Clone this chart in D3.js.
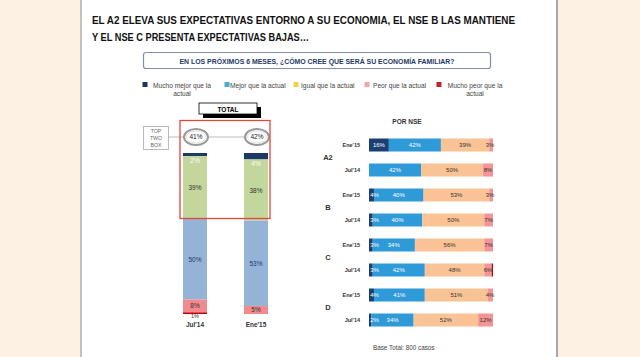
<!DOCTYPE html>
<html><head><meta charset="utf-8">
<script src="https://cdn.jsdelivr.net/npm/d3@7"></script>
<style>html,body{margin:0;padding:0;background:#FDF1E4;}svg{display:block;}</style>
</head><body>
<script>
// ---- data ----
const legendLabels = [["Mucho mejor que la","actual"],["Mejor que la actual"],["Igual que la actual"],["Peor que la actual"],["Mucho peor que la","actual"]];
const totalCategories = ["Jul'14","Ene'15"];
const totalMuchoMejor = [2,4];
const totalMejor = [39,38];
const totalIgual = [50,53];
const totalPeor = [8,5];
const totalMuchoPeor = [1,0];
const topTwoBox = [41,42];

const nseGroups = ["A2","B","C","D"];
const nseRowLabels = ["Ene'15","Jul'14"];
const nseMuchoMejor = [16,0, 4,3, 3,3, 4,2];
const nseMejor =      [42,42, 40,40, 34,42, 41,34];
const nseIgual =      [39,50, 53,50, 56,48, 51,52];
const nsePeor =       [3,8, 3,7, 7,6, 4,12];
const nseMuchoPeor =  [0,0, 0,0, 0,1, 0,0];

const W=640,H=357;
const svg=d3.select("body").append("svg").attr("width",W).attr("height",H);
svg.append("rect").attr("width",W).attr("height",H).attr("fill","#FDF1E4");
svg.append("rect").attr("x",81).attr("y",0).attr("width",476).attr("height",H).attr("fill","#fff");
svg.append("line").attr("x1",81).attr("x2",81).attr("y1",0).attr("y2",H).attr("stroke","#b0b0b0").attr("stroke-width",1.5);
svg.append("line").attr("x1",557).attr("x2",557).attr("y1",0).attr("y2",H).attr("stroke","#a8a8a8").attr("stroke-width",2);

const narrow="'Liberation Sans Narrow','Arial Narrow','Liberation Sans',sans-serif";
const sans="'Liberation Sans',Arial,sans-serif";
// title
svg.append("text").attr("x",92).attr("y",24).attr("font-family",narrow).attr("font-weight","bold").attr("font-size",11.5).attr("fill","#111")
  .attr("textLength",423).attr("lengthAdjust","spacingAndGlyphs")
  .text("EL A2 ELEVA SUS EXPECTATIVAS ENTORNO A SU ECONOMIA, EL NSE B LAS MANTIENE");
svg.append("text").attr("x",92).attr("y",41).attr("font-family",narrow).attr("font-weight","bold").attr("font-size",11.5).attr("fill","#111")
  .attr("textLength",217).attr("lengthAdjust","spacingAndGlyphs")
  .text("Y EL NSE C PRESENTA EXPECTATIVAS BAJAS…");
// question box
svg.append("rect").attr("x",143.5).attr("y",52.5).attr("width",347).attr("height",16).attr("rx",2.5)
  .attr("fill","#fff").attr("stroke","#8090a8").attr("stroke-width",1.2);
svg.append("text").attr("x",317).attr("y",63.5).attr("text-anchor","middle").attr("font-family",narrow).attr("font-weight","bold")
  .attr("font-size",7.5).attr("fill","#1F3864").attr("textLength",275).attr("lengthAdjust","spacingAndGlyphs")
  .text("EN LOS PRÓXIMOS 6 MESES, ¿CÓMO CREE QUE SERÁ SU ECONOMÍA FAMILIAR?");

// legend
const legendColors=["#17375E","#4BACC6","#F5D33F","#F4A6A8","#C0262D"];
const legendX=[145,227,296,367,439];
const legendTextX=[182,230,301,373,475];
legendLabels.forEach((l,i)=>{
  svg.append("rect").attr("x",legendX[i]-2.5).attr("y",82).attr("width",5).attr("height",5).attr("fill",legendColors[i]);
  l.forEach((t,j)=>{
    svg.append("text").attr("x",legendTextX[i]).attr("y",87.5+j*8).attr("text-anchor",l.length>1?"middle":"start")
      .attr("font-family",sans).attr("font-size",6.6).attr("fill","#444").text(t);
  });
});

// TOTAL box
svg.append("rect").attr("x",203).attr("y",107).attr("width",58).attr("height",11).attr("fill","#000");
svg.append("rect").attr("x",199).attr("y",103).attr("width",58).attr("height",11).attr("fill","#fff").attr("stroke","#000").attr("stroke-width",0.8);
svg.append("text").attr("x",228).attr("y",111.5).attr("text-anchor","middle").attr("font-family",sans).attr("font-weight","bold").attr("font-size",6.5).text("TOTAL");

// ---- left stacked columns ----
const xL=d3.scalePoint().domain(totalCategories).range([195,256]);
const yL=d3.scaleLinear().domain([0,100]).range([314,153]);
const bw=24;
const leftSeries=[
  {vals:totalMuchoMejor,color:"#1B3A66"},
  {vals:totalMejor,color:"#C3D69B"},
  {vals:totalIgual,color:"#95B3D7"},
  {vals:totalPeor,color:"#F08A8C"},
  {vals:totalMuchoPeor,color:"#C00000"}];
totalCategories.forEach((c,i)=>{
  let cum=100;
  leftSeries.forEach(s=>{
    const v=s.vals[i];
    if(v>0){
      svg.append("rect").attr("x",xL(c)-bw/2).attr("y",yL(cum)).attr("width",bw).attr("height",yL(cum-v)-yL(cum)).attr("fill",s.color);
    }
    cum-=v;
  });
});
const lbl=(x,y,t,col,fs)=>svg.append("text").attr("x",x).attr("y",y).attr("text-anchor","middle").attr("dominant-baseline","middle")
  .attr("font-family",sans).attr("font-size",fs||6.5).attr("fill",col).text(t);
totalCategories.forEach((c,i)=>{
  const x=xL(c);
  const top=100-totalMuchoMejor[i];
  lbl(x,yL(top)+5,totalMuchoMejor[i]+"%","#fff");
  lbl(x,yL(top-totalMejor[i]/2)+1,totalMejor[i]+"%","#333");
  const t2=top-totalMejor[i];
  lbl(x,yL(t2-totalIgual[i]/2)+1,totalIgual[i]+"%","#1F3864");
  const t3=t2-totalIgual[i];
  lbl(x,yL(t3-totalPeor[i]/2),totalPeor[i]+"%","#333");
  if(totalMuchoPeor[i]>0) lbl(x,yL(0)+3,totalMuchoPeor[i]+"%","#333",5.5);
  svg.append("text").attr("x",x).attr("y",327).attr("text-anchor","middle").attr("font-family",sans).attr("font-weight","bold")
    .attr("font-size",6.5).attr("fill","#333").text(c);
});
// top two box
svg.append("rect").attr("x",143.5).attr("y",126.5).attr("width",25).attr("height",23).attr("fill","#fff").attr("stroke","#aaa").attr("stroke-width",0.8);
["TOP","TWO","BOX"].forEach((t,j)=>svg.append("text").attr("x",156).attr("y",133+j*7).attr("text-anchor","middle")
  .attr("font-family",sans).attr("font-size",5.2).attr("fill","#666").text(t));
svg.append("line").attr("x1",168.5).attr("x2",xL(totalCategories[1])).attr("y1",137).attr("y2",137).attr("stroke","#aaa").attr("stroke-width",0.8);
totalCategories.forEach((c,i)=>{
  svg.append("ellipse").attr("cx",xL(c)+1).attr("cy",137).attr("rx",12).attr("ry",8).attr("fill","#fff").attr("stroke","#999").attr("stroke-width",2);
  svg.append("ellipse").attr("cx",xL(c)+1).attr("cy",137).attr("rx",9.5).attr("ry",6).attr("fill","none").attr("stroke","#ccc").attr("stroke-width",0.6);
  lbl(xL(c)+1,137.5,topTwoBox[i]+"%","#222",6.5);
});
svg.append("rect").attr("x",180).attr("y",120.5).attr("width",90).attr("height",98).attr("fill","none").attr("stroke","#E0483A").attr("stroke-width",1.3);

// ---- right stacked bars ----
svg.append("text").attr("x",407).attr("y",124).attr("text-anchor","middle").attr("font-family",sans).attr("font-weight","bold").attr("font-size",6.5).attr("fill","#333").text("POR NSE");
const rows=[];
nseGroups.forEach(g=>nseRowLabels.forEach(r=>rows.push(g+"|"+r)));
const yR=d3.scaleBand().domain(rows).range([132.5,332.5]).paddingInner(0.48).paddingOuter(0.24);
const xR=d3.scaleLinear().domain([0,100]).range([369,493]);
const rightSeries=[
  {vals:nseMuchoMejor,color:"#1B3F73",tc:"#fff"},
  {vals:nseMejor,color:"#2F9AD8",tc:"#fff"},
  {vals:nseIgual,color:"#FAC395",tc:"#333"},
  {vals:nsePeor,color:"#F49497",tc:"#333"},
  {vals:nseMuchoPeor,color:"#C00000",tc:"#333"}];
rows.forEach((r,i)=>{
  let cum=0;
  const y=yR(r), h=yR.bandwidth();
  rightSeries.forEach((s,k)=>{
    const v=s.vals[i];
    if(v>0){
      svg.append("rect").attr("x",xR(cum)).attr("y",y).attr("width",xR(cum+v)-xR(cum)).attr("height",h).attr("fill",s.color);
    }
    cum+=v;
  });
  cum=0;
  rightSeries.forEach((s,k)=>{
    const v=s.vals[i];
    if(v>0 && k<4){
      let cx=(xR(cum)+xR(cum+v))/2;
      if(v<5 && k===0) cx=xR(cum)+5.5;
      if(v<5 && k===3) cx=xR(cum+v)-3;
      svg.append("text").attr("x",cx).attr("y",y+h/2+0.5).attr("text-anchor","middle").attr("dominant-baseline","middle")
        .attr("font-family",sans).attr("font-size",6).attr("fill",s.tc).text(v+"%");
    }
    cum+=v;
  });
  svg.append("text").attr("x",360).attr("y",y+h/2+0.5).attr("text-anchor","end").attr("dominant-baseline","middle")
    .attr("font-family",sans).attr("font-weight","bold").attr("font-size",5.5).attr("fill","#333").text(r.split("|")[1]);
});
nseGroups.forEach(g=>{
  const yc=(yR(g+"|"+nseRowLabels[0])+yR(g+"|"+nseRowLabels[1])+yR.bandwidth())/2;
  svg.append("text").attr("x",328).attr("y",yc+0.5).attr("text-anchor","middle").attr("dominant-baseline","middle")
    .attr("font-family",sans).attr("font-weight","bold").attr("font-size",7.5).attr("fill","#333").text(g);
});
svg.append("text").attr("x",373).attr("y",350).attr("font-family",sans).attr("font-size",6.3).attr("fill","#444").text("Base Total: 800 casos");
</script>
</body></html>
